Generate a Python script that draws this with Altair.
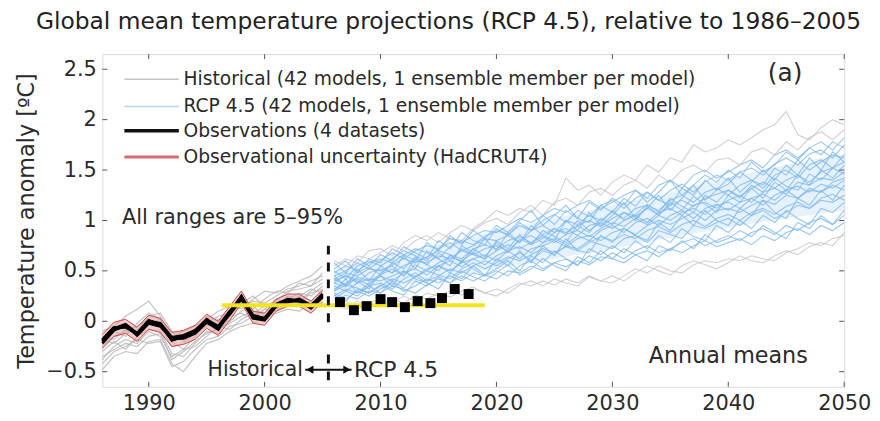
import altair as alt
import pandas as pd

FONT = "DejaVu Sans"
TXT = "#2a2a2a"

YEARS_HIST = list(range(1986, 2006))
YEARS_RCP = list(range(2006, 2051))

# Observations (4 datasets), 1986-2005
OBS_1 = [-0.20, -0.08, -0.05, -0.13, -0.01, -0.04, -0.18, -0.16, -0.11, 0.00, -0.07, 0.08, 0.24, 0.04, 0.02, 0.16, 0.21, 0.21, 0.14, 0.25]
OBS_2 = [-0.18, -0.06, -0.06, -0.12, 0.01, -0.03, -0.19, -0.15, -0.10, 0.02, -0.06, 0.07, 0.22, 0.03, 0.01, 0.15, 0.20, 0.20, 0.15, 0.27]
OBS_3 = [-0.22, -0.09, -0.04, -0.14, -0.02, -0.05, -0.17, -0.17, -0.12, -0.01, -0.08, 0.09, 0.25, 0.05, 0.03, 0.17, 0.22, 0.20, 0.13, 0.24]
OBS_4 = [-0.19, -0.07, -0.03, -0.12, 0.00, -0.02, -0.16, -0.14, -0.09, 0.01, -0.05, 0.10, 0.23, 0.06, 0.03, 0.15, 0.19, 0.22, 0.16, 0.26]

# Observational uncertainty (HadCRUT4) envelope
UNC_HI = [-0.13, -0.01, 0.02, -0.06, 0.06, 0.03, -0.11, -0.09, -0.04, 0.07, 0.00, 0.15, 0.30, 0.10, 0.08, 0.22, 0.27, 0.27, 0.20, 0.31]
UNC_LO = [-0.27, -0.15, -0.12, -0.20, -0.08, -0.11, -0.25, -0.23, -0.18, -0.07, -0.14, 0.01, 0.18, -0.02, -0.04, 0.10, 0.15, 0.15, 0.08, 0.19]

# Historical model runs (subset)
HIST_MODELS = [
    [-0.35, -0.28, -0.22, -0.25, -0.15, -0.12, -0.38, -0.30, -0.20, -0.12, -0.08, -0.02, 0.05, 0.10, 0.08, 0.18, 0.22, 0.28, 0.25, 0.35],
    [-0.10, -0.05, 0.05, 0.12, 0.20, 0.05, -0.15, -0.10, -0.05, 0.02, 0.10, 0.15, 0.12, 0.22, 0.30, 0.28, 0.35, 0.40, 0.45, 0.55],
    [-0.42, -0.30, -0.25, -0.18, -0.22, -0.20, -0.45, -0.40, -0.28, -0.18, -0.15, -0.05, -0.02, 0.05, 0.12, 0.10, 0.18, 0.25, 0.20, 0.30],
    [-0.25, -0.15, -0.10, -0.05, 0.02, -0.05, -0.25, -0.22, -0.12, -0.05, 0.02, 0.00, 0.10, 0.15, 0.05, 0.15, 0.25, 0.20, 0.30, 0.38],
    [-0.30, -0.20, -0.28, -0.15, -0.08, -0.10, -0.32, -0.35, -0.22, -0.10, -0.12, 0.05, 0.08, 0.02, 0.12, 0.22, 0.18, 0.25, 0.32, 0.28],
    [-0.18, -0.22, -0.12, -0.08, -0.02, 0.02, -0.20, -0.28, -0.15, -0.02, 0.05, 0.08, 0.15, 0.20, 0.18, 0.25, 0.32, 0.35, 0.40, 0.45],
    [-0.48, -0.35, -0.30, -0.32, -0.20, -0.18, -0.42, -0.50, -0.35, -0.22, -0.18, -0.10, -0.05, -0.02, 0.05, 0.08, 0.12, 0.10, 0.18, 0.22],
    [-0.22, -0.10, -0.15, -0.02, 0.08, 0.02, -0.18, -0.15, -0.08, 0.00, -0.02, 0.12, 0.18, 0.12, 0.22, 0.30, 0.28, 0.38, 0.35, 0.48],
    [-0.38, -0.25, -0.18, -0.22, -0.10, -0.15, -0.35, -0.28, -0.25, -0.15, -0.05, -0.08, 0.02, 0.08, 0.15, 0.12, 0.20, 0.18, 0.28, 0.32],
    [-0.15, -0.18, -0.08, -0.10, 0.05, 0.08, -0.10, -0.20, -0.10, 0.05, 0.00, 0.05, 0.18, 0.25, 0.15, 0.20, 0.30, 0.32, 0.35, 0.42],
]

# RCP 4.5 model runs, 2006-2050 (subset)
RCP_MODELS = [
    [0.55, 0.62, 0.58, 0.70, 0.72, 0.65, 0.78, 0.85, 0.80, 0.88, 0.82, 0.80, 0.92, 1.00, 1.10, 1.05, 1.12, 1.08, 1.20, 1.15, 1.42, 1.30, 1.35, 1.25, 1.38, 1.45, 1.40, 1.55, 1.48, 1.62, 1.58, 1.75, 1.68, 1.72, 1.80, 1.75, 1.82, 1.90, 1.95, 2.08, 1.85, 1.80, 1.92, 2.00, 1.95],
    [0.15, 0.20, 0.12, 0.18, 0.22, 0.18, 0.25, 0.20, 0.28, 0.25, 0.30, 0.26, 0.32, 0.28, 0.25, 0.32, 0.38, 0.35, 0.40, 0.36, 0.42, 0.38, 0.45, 0.40, 0.38, 0.45, 0.52, 0.48, 0.55, 0.50, 0.48, 0.56, 0.60, 0.58, 0.62, 0.60, 0.65, 0.62, 0.60, 0.68, 0.72, 0.78, 0.75, 0.82, 0.85],
    [0.45, 0.50, 0.58, 0.52, 0.60, 0.68, 0.62, 0.70, 0.75, 0.72, 0.82, 0.78, 0.85, 0.90, 0.88, 0.95, 1.02, 0.98, 1.05, 1.12, 1.08, 1.15, 1.20, 1.12, 1.18, 1.25, 1.30, 1.22, 1.35, 1.40, 1.32, 1.45, 1.50, 1.42, 1.48, 1.55, 1.60, 1.52, 1.65, 1.70, 1.62, 1.72, 1.78, 1.70, 1.82],
    [0.35, 0.30, 0.38, 0.42, 0.40, 0.45, 0.50, 0.44, 0.52, 0.55, 0.50, 0.58, 0.62, 0.56, 0.65, 0.70, 0.62, 0.72, 0.75, 0.80, 0.74, 0.82, 0.85, 0.80, 0.88, 0.92, 0.86, 0.95, 1.00, 0.96, 1.02, 1.08, 1.00, 1.10, 1.12, 1.08, 1.15, 1.20, 1.16, 1.25, 1.22, 1.30, 1.28, 1.35, 1.30],
    [0.25, 0.32, 0.28, 0.35, 0.38, 0.32, 0.42, 0.48, 0.40, 0.45, 0.52, 0.48, 0.55, 0.60, 0.55, 0.62, 0.68, 0.60, 0.70, 0.66, 0.75, 0.72, 0.80, 0.76, 0.72, 0.82, 0.85, 0.78, 0.90, 0.86, 0.82, 0.95, 0.92, 0.98, 1.02, 0.95, 1.05, 1.10, 1.02, 1.08, 1.15, 1.12, 1.20, 1.18, 1.25],
    [0.50, 0.42, 0.55, 0.60, 0.55, 0.62, 0.70, 0.65, 0.60, 0.72, 0.78, 0.70, 0.75, 0.82, 0.80, 0.85, 0.78, 0.90, 0.95, 0.88, 1.00, 0.96, 1.05, 1.00, 1.08, 1.02, 1.12, 1.15, 1.10, 1.20, 1.25, 1.18, 1.28, 1.32, 1.25, 1.35, 1.40, 1.32, 1.45, 1.50, 1.42, 1.55, 1.60, 1.52, 1.65],
    [0.28, 0.22, 0.30, 0.25, 0.32, 0.38, 0.30, 0.35, 0.42, 0.38, 0.45, 0.40, 0.48, 0.45, 0.50, 0.45, 0.55, 0.60, 0.52, 0.58, 0.62, 0.56, 0.65, 0.60, 0.68, 0.62, 0.70, 0.75, 0.68, 0.72, 0.78, 0.82, 0.75, 0.80, 0.85, 0.80, 0.88, 0.92, 0.86, 0.95, 0.90, 0.98, 1.02, 0.96, 1.05],
    [0.40, 0.45, 0.38, 0.48, 0.52, 0.48, 0.55, 0.60, 0.58, 0.65, 0.62, 0.70, 0.66, 0.72, 0.75, 0.70, 0.80, 0.85, 0.78, 0.88, 0.92, 0.85, 0.95, 0.98, 0.92, 1.00, 1.05, 0.98, 1.08, 1.12, 1.05, 1.15, 1.18, 1.12, 1.20, 1.25, 1.18, 1.28, 1.32, 1.26, 1.38, 1.35, 1.42, 1.40, 1.48],
    [0.60, 0.55, 0.65, 0.62, 0.68, 0.75, 0.70, 0.80, 0.85, 0.78, 0.88, 0.95, 0.90, 0.98, 1.02, 0.96, 1.08, 1.15, 1.05, 1.18, 1.22, 1.15, 1.28, 1.32, 1.25, 1.35, 1.40, 1.32, 1.45, 1.38, 1.50, 1.55, 1.48, 1.60, 1.62, 1.55, 1.68, 1.72, 1.65, 1.78, 1.70, 1.82, 1.88, 1.80, 1.90],
    [0.32, 0.38, 0.42, 0.36, 0.45, 0.40, 0.48, 0.52, 0.46, 0.55, 0.60, 0.54, 0.62, 0.66, 0.60, 0.70, 0.74, 0.68, 0.78, 0.82, 0.76, 0.85, 0.80, 0.90, 0.95, 0.88, 0.98, 1.02, 0.95, 1.05, 1.10, 1.02, 1.12, 1.16, 1.10, 1.18, 1.22, 1.15, 1.25, 1.30, 1.22, 1.32, 1.28, 1.38, 1.42],
    [0.20, 0.26, 0.22, 0.30, 0.28, 0.35, 0.32, 0.28, 0.36, 0.42, 0.38, 0.45, 0.40, 0.46, 0.42, 0.50, 0.48, 0.55, 0.50, 0.58, 0.54, 0.60, 0.56, 0.64, 0.62, 0.58, 0.66, 0.70, 0.64, 0.72, 0.68, 0.75, 0.80, 0.74, 0.78, 0.82, 0.76, 0.85, 0.80, 0.88, 0.92, 0.86, 0.95, 0.90, 0.98],
    [0.38, 0.34, 0.44, 0.40, 0.46, 0.52, 0.45, 0.56, 0.50, 0.58, 0.64, 0.60, 0.68, 0.62, 0.70, 0.76, 0.72, 0.78, 0.84, 0.78, 0.86, 0.90, 0.84, 0.92, 0.98, 0.94, 1.02, 0.96, 1.05, 1.00, 1.08, 1.12, 1.06, 1.15, 1.18, 1.12, 1.22, 1.26, 1.20, 1.30, 1.34, 1.28, 1.36, 1.32, 1.40],
    [0.48, 0.55, 0.50, 0.58, 0.62, 0.58, 0.66, 0.72, 0.68, 0.62, 0.74, 0.80, 0.76, 0.84, 0.90, 0.86, 0.95, 0.90, 1.00, 1.06, 0.98, 1.10, 1.04, 1.15, 1.20, 1.12, 1.22, 1.28, 1.20, 1.30, 1.36, 1.28, 1.38, 1.45, 1.40, 1.48, 1.52, 1.45, 1.56, 1.62, 1.55, 1.66, 1.70, 1.62, 1.75],
    [0.18, 0.12, 0.20, 0.15, 0.15, 0.22, 0.18, 0.26, 0.22, 0.28, 0.24, 0.30, 0.34, 0.28, 0.32, 0.28, 0.36, 0.40, 0.35, 0.42, 0.38, 0.35, 0.44, 0.40, 0.45, 0.40, 0.48, 0.55, 0.50, 0.46, 0.55, 0.60, 0.56, 0.52, 0.58, 0.65, 0.60, 0.58, 0.65, 0.70, 0.66, 0.74, 0.78, 0.75, 0.88],
    [0.30, 0.36, 0.33, 0.28, 0.35, 0.42, 0.38, 0.44, 0.50, 0.46, 0.42, 0.52, 0.58, 0.52, 0.58, 0.64, 0.60, 0.66, 0.72, 0.68, 0.74, 0.70, 0.78, 0.84, 0.80, 0.86, 0.82, 0.90, 0.94, 0.88, 0.96, 1.00, 0.94, 1.02, 1.06, 1.00, 1.08, 1.12, 1.06, 1.14, 1.18, 1.12, 1.22, 1.26, 1.20],
    [0.42, 0.48, 0.45, 0.52, 0.50, 0.56, 0.62, 0.58, 0.64, 0.70, 0.66, 0.62, 0.72, 0.76, 0.72, 0.80, 0.84, 0.78, 0.86, 0.92, 0.88, 0.95, 1.00, 0.94, 1.02, 1.08, 1.04, 1.12, 1.06, 1.15, 1.20, 1.14, 1.22, 1.26, 1.30, 1.24, 1.32, 1.38, 1.32, 1.40, 1.45, 1.38, 1.48, 1.52, 1.58],
    [0.45, 0.35, 0.52, 0.40, 0.55, 0.48, 0.65, 0.52, 0.70, 0.62, 0.55, 0.75, 0.68, 0.82, 0.70, 0.88, 0.78, 0.95, 0.85, 0.80, 1.00, 0.90, 1.08, 0.95, 1.05, 1.18, 1.02, 1.12, 1.25, 1.10, 1.22, 1.35, 1.20, 1.30, 1.42, 1.28, 1.38, 1.50, 1.40, 1.55, 1.45, 1.62, 1.50, 1.68, 1.58],
    [0.30, 0.42, 0.28, 0.38, 0.45, 0.35, 0.50, 0.42, 0.38, 0.55, 0.48, 0.60, 0.52, 0.45, 0.62, 0.55, 0.70, 0.58, 0.75, 0.65, 0.82, 0.70, 0.68, 0.85, 0.78, 0.92, 0.85, 0.80, 0.98, 0.90, 1.05, 0.95, 1.10, 1.00, 0.95, 1.12, 1.05, 1.20, 1.08, 1.02, 1.22, 1.15, 1.30, 1.20, 1.35],
    [0.52, 0.60, 0.48, 0.62, 0.58, 0.72, 0.66, 0.60, 0.78, 0.70, 0.85, 0.76, 0.90, 0.82, 0.95, 0.88, 1.00, 1.10, 0.95, 1.05, 1.15, 1.02, 1.18, 1.10, 1.22, 1.15, 1.30, 1.18, 1.28, 1.40, 1.25, 1.35, 1.45, 1.38, 1.50, 1.42, 1.58, 1.48, 1.55, 1.68, 1.60, 1.72, 1.65, 1.78, 1.72],
    [0.22, 0.30, 0.25, 0.35, 0.28, 0.40, 0.33, 0.45, 0.38, 0.32, 0.48, 0.42, 0.55, 0.46, 0.52, 0.60, 0.50, 0.65, 0.58, 0.70, 0.62, 0.55, 0.72, 0.66, 0.75, 0.68, 0.80, 0.72, 0.85, 0.78, 0.92, 0.84, 0.80, 0.95, 0.88, 1.00, 0.92, 1.05, 0.98, 1.10, 1.02, 0.96, 1.12, 1.08, 1.18],
    [0.38, 0.46, 0.40, 0.32, 0.48, 0.55, 0.45, 0.62, 0.56, 0.50, 0.66, 0.58, 0.72, 0.64, 0.78, 0.68, 0.82, 0.76, 0.90, 0.84, 0.78, 0.95, 0.88, 1.02, 0.96, 1.08, 1.00, 1.14, 1.05, 1.18, 1.10, 1.24, 1.16, 1.08, 1.25, 1.18, 1.32, 1.22, 1.38, 1.30, 1.45, 1.35, 1.50, 1.42, 1.55],
    [0.58, 0.48, 0.62, 0.55, 0.66, 0.60, 0.74, 0.68, 0.62, 0.80, 0.72, 0.88, 0.80, 0.76, 0.92, 0.85, 0.98, 0.90, 1.05, 0.96, 1.10, 1.02, 0.98, 1.15, 1.08, 1.22, 1.14, 1.28, 1.20, 1.15, 1.32, 1.25, 1.40, 1.30, 1.36, 1.48, 1.40, 1.35, 1.52, 1.45, 1.60, 1.50, 1.58, 1.65, 1.62],
    [0.26, 0.20, 0.32, 0.28, 0.36, 0.30, 0.26, 0.40, 0.35, 0.44, 0.38, 0.50, 0.44, 0.40, 0.48, 0.56, 0.46, 0.52, 0.62, 0.55, 0.50, 0.64, 0.58, 0.70, 0.62, 0.72, 0.66, 0.60, 0.75, 0.70, 0.80, 0.72, 0.86, 0.78, 0.82, 0.90, 0.84, 0.95, 0.88, 0.82, 0.98, 0.92, 1.05, 0.96, 1.10],
    [0.42, 0.36, 0.48, 0.54, 0.46, 0.58, 0.52, 0.64, 0.56, 0.68, 0.60, 0.72, 0.66, 0.62, 0.80, 0.72, 0.86, 0.76, 0.82, 0.92, 0.86, 1.00, 0.90, 0.98, 1.10, 1.00, 1.06, 1.16, 1.08, 1.22, 1.14, 1.08, 1.25, 1.18, 1.30, 1.22, 1.35, 1.28, 1.42, 1.34, 1.30, 1.46, 1.40, 1.52, 1.46],
]
RCP_OUTER = [0, 1, 8, 13]  # the pale grey-ish extreme runs

# Dense core of the RCP 4.5 ensemble (read at 5-year steps)
CORE_YEARS = [2006, 2010, 2015, 2020, 2025, 2030, 2035, 2040, 2045, 2050]
CORE_LO = [0.24, 0.32, 0.42, 0.52, 0.62, 0.72, 0.83, 0.93, 1.02, 1.10]
CORE_HI = [0.52, 0.62, 0.76, 0.90, 1.02, 1.15, 1.28, 1.42, 1.55, 1.66]

# Added annual observations after 2005 (black squares)
SQ_YEARS = [2006.5, 2007.7, 2008.8, 2010.0, 2011.0, 2012.1, 2013.2, 2014.3, 2015.3, 2016.4, 2017.6]
SQ_VALUES = [0.19, 0.11, 0.15, 0.22, 0.19, 0.14, 0.20, 0.18, 0.23, 0.32, 0.27]

# Yellow reference line
YELLOW_X = [1996.3, 2019.0]
YELLOW_Y = 0.16

X_TICKS = [1990, 2000, 2010, 2020, 2030, 2040, 2050]
Y_TICKS = [-0.5, 0, 0.5, 1, 1.5, 2, 2.5]
X_DOMAIN = [1986, 2050]
Y_DOMAIN = [-0.65, 2.65]

LEGEND_LABELS = [
    "Historical (42 models, 1 ensemble member per model)",
    "RCP 4.5 (42 models, 1 ensemble member per model)",
    "Observations (4 datasets)",
    "Observational uncertainty (HadCRUT4)",
]
LEGEND_Y = [2.40, 2.13, 1.89, 1.63]
LEGEND_COLORS = ["#c4c4c4", "#b4d6f2", "#111111", "#d86a6a"]
LEGEND_WIDTHS = [1.5, 1.5, 3.5, 3.0]

W, H = 747, 335

# ---------- tables ----------
hist_rows = []
for i, s in enumerate(HIST_MODELS):
    for yr, v in zip(YEARS_HIST, s):
        hist_rows.append({"model": f"h{i}", "year": yr, "value": v})
hist_df = pd.DataFrame(hist_rows)

rcp_rows = []
for i, s in enumerate(RCP_MODELS):
    grp = "outer" if i in RCP_OUTER else "inner"
    for yr, v in zip(YEARS_RCP, s):
        rcp_rows.append({"model": f"r{i}", "grp": grp, "year": yr, "value": v})
rcp_df = pd.DataFrame(rcp_rows)

obs_rows = []
for name, s in zip(["a", "b", "c", "d"], [OBS_1, OBS_2, OBS_3, OBS_4]):
    for yr, v in zip(YEARS_HIST, s):
        obs_rows.append({"ds": name, "year": yr, "value": v})
obs_df = pd.DataFrame(obs_rows)

core_df = pd.DataFrame({"year": CORE_YEARS, "lo": CORE_LO, "hi": CORE_HI})
unc_df = pd.DataFrame({"year": YEARS_HIST, "lo": UNC_LO, "hi": UNC_HI})
sq_df = pd.DataFrame({"year": SQ_YEARS, "value": SQ_VALUES})
yel_df = pd.DataFrame({"x": [YELLOW_X[0]], "x2": [YELLOW_X[1]], "y": [YELLOW_Y]})
leg_df = pd.DataFrame({"label": LEGEND_LABELS, "y": LEGEND_Y, "color": LEGEND_COLORS, "w": LEGEND_WIDTHS,
                       "x": [1987.9] * 4, "x2": [1992.6] * 4, "tx": [1993.0] * 4})

xs = alt.Scale(domain=X_DOMAIN, nice=False, zero=False)
ys = alt.Scale(domain=Y_DOMAIN, nice=False, zero=False)

X = alt.X("year:Q", scale=xs, axis=alt.Axis(values=X_TICKS, format="d", grid=False, ticks=False, domain=False,
                                             labelFontSize=21, labelFont=FONT, labelColor=TXT, labelPadding=6,
                                             title=None, labelFlush=False))
Y = alt.Y("value:Q", scale=ys, axis=alt.Axis(values=Y_TICKS, format="~g", grid=False, ticks=False, domain=False,
                                              labelFontSize=21, labelFont=FONT, labelColor=TXT, labelPadding=6,
                                              title="Temperature anomaly  [\u00baC]", titleFontSize=22.5,
                                              titleFont=FONT, titleColor=TXT, titleFontWeight="normal",
                                              titlePadding=7, labelFlush=False))

hist = alt.Chart(hist_df).mark_line(color="#b8b8b8", strokeWidth=1.2, opacity=0.85).encode(
    x=X, y=Y, detail="model:N")

core = alt.Chart(core_df).mark_area(color="#b5d7f4", opacity=0.35, interpolate="monotone").encode(
    x=alt.X("year:Q", scale=xs), y=alt.Y("lo:Q", scale=ys), y2="hi:Q")

rcp = alt.Chart(rcp_df).mark_line(strokeWidth=1.1, opacity=0.8).encode(
    x=alt.X("year:Q", scale=xs), y=alt.Y("value:Q", scale=ys), detail="model:N",
    color=alt.Color("grp:N", scale=alt.Scale(domain=["inner", "outer"], range=["#7db8ec", "#c8c2cc"]), legend=None))

unc = alt.Chart(unc_df).mark_area(color="#e4a0a0", opacity=0.55).encode(
    x=alt.X("year:Q", scale=xs), y=alt.Y("lo:Q", scale=ys), y2="hi:Q")
unc_hi = alt.Chart(unc_df).mark_line(color="#d04848", strokeWidth=1).encode(
    x=alt.X("year:Q", scale=xs), y=alt.Y("hi:Q", scale=ys))
unc_lo = alt.Chart(unc_df).mark_line(color="#d04848", strokeWidth=1).encode(
    x=alt.X("year:Q", scale=xs), y=alt.Y("lo:Q", scale=ys))

obs = alt.Chart(obs_df).mark_line(color="#000000", strokeWidth=2.8).encode(
    x=alt.X("year:Q", scale=xs), y=alt.Y("value:Q", scale=ys), detail="ds:N")

yellow = alt.Chart(yel_df).mark_rule(color="#f2e41c", strokeWidth=4).encode(
    x=alt.X("x:Q", scale=xs), x2="x2:Q", y=alt.Y("y:Q", scale=ys))

dash_df = pd.DataFrame({"x": [2005.5, 2005.5], "y": [0.75, -0.33], "y2": [-0.02, Y_DOMAIN[0]]})
dashed = alt.Chart(dash_df).mark_rule(color="#111111", strokeWidth=3, strokeDash=[9, 8]).encode(
    x=alt.X("x:Q", scale=xs), y=alt.Y("y:Q", scale=ys), y2="y2:Q")

squares = alt.Chart(sq_df).mark_square(color="#000000", size=100, opacity=1).encode(
    x=alt.X("year:Q", scale=xs), y=alt.Y("value:Q", scale=ys))

leg_lines = alt.Chart(leg_df).mark_rule().encode(
    x=alt.X("x:Q", scale=xs), x2="x2:Q", y=alt.Y("y:Q", scale=ys),
    color=alt.Color("color:N", scale=None), strokeWidth=alt.StrokeWidth("w:Q", scale=None))
leg_text = alt.Chart(leg_df).mark_text(align="left", baseline="middle", font=FONT, fontSize=18.8, color=TXT).encode(
    x=alt.X("tx:Q", scale=xs), y=alt.Y("y:Q", scale=ys), text="label:N")

ann_df = pd.DataFrame({
    "text": ["All ranges are 5\u201395%", "(a)", "Annual means"],
    "x": [1987.7, 2044.9, 2040.0],
    "y": [1.02, 2.46, -0.34],
})
ann_left = alt.Chart(ann_df.iloc[[0]]).mark_text(align="left", baseline="middle", font=FONT, fontSize=21, color=TXT).encode(
    x=alt.X("x:Q", scale=xs), y=alt.Y("y:Q", scale=ys), text="text:N")
ann_a = alt.Chart(ann_df.iloc[[1]]).mark_text(align="center", baseline="middle", font=FONT, fontSize=25, color=TXT).encode(
    x=alt.X("x:Q", scale=xs), y=alt.Y("y:Q", scale=ys), text="text:N")
ann_am = alt.Chart(ann_df.iloc[[2]]).mark_text(align="center", baseline="middle", font=FONT, fontSize=22.4, color=TXT).encode(
    x=alt.X("x:Q", scale=xs), y=alt.Y("y:Q", scale=ys), text="text:N")

# "Historical <-|-> RCP 4.5"
per_df = pd.DataFrame({"text": ["Historical", "RCP 4.5"], "x": [2003.3, 2007.7], "y": [-0.48, -0.48]})
per_l = alt.Chart(per_df.iloc[[0]]).mark_text(align="right", baseline="middle", font=FONT, fontSize=20.5, color=TXT).encode(
    x=alt.X("x:Q", scale=xs), y=alt.Y("y:Q", scale=ys), text="text:N")
per_r = alt.Chart(per_df.iloc[[1]]).mark_text(align="left", baseline="middle", font=FONT, fontSize=22, color=TXT).encode(
    x=alt.X("x:Q", scale=xs), y=alt.Y("y:Q", scale=ys), text="text:N")
arrow_df = pd.DataFrame({"x": [2003.5], "x2": [2007.5], "y": [-0.48]})
arrow_line = alt.Chart(arrow_df).mark_rule(color="#111111", strokeWidth=2).encode(
    x=alt.X("x:Q", scale=xs), x2="x2:Q", y=alt.Y("y:Q", scale=ys))
head_df = pd.DataFrame({"x": [2003.9, 2007.1], "y": [-0.48, -0.48], "shape": ["triangle-left", "triangle-right"]})
heads = alt.Chart(head_df).mark_point(filled=True, color="#111111", size=70, opacity=1).encode(
    x=alt.X("x:Q", scale=xs), y=alt.Y("y:Q", scale=ys), shape=alt.Shape("shape:N", scale=None))

# inward ticks on all four sides
xt_df = pd.DataFrame({"t": X_TICKS})
yt_df = pd.DataFrame({"t": Y_TICKS})
xt_bot = alt.Chart(xt_df).mark_rule(color="#555555", strokeWidth=1).encode(
    x=alt.X("t:Q", scale=xs), y=alt.value(H), y2=alt.value(H - 5))
xt_top = alt.Chart(xt_df).mark_rule(color="#555555", strokeWidth=1).encode(
    x=alt.X("t:Q", scale=xs), y=alt.value(0), y2=alt.value(5))
yt_l = alt.Chart(yt_df).mark_rule(color="#555555", strokeWidth=1).encode(
    y=alt.Y("t:Q", scale=ys), x=alt.value(0), x2=alt.value(5))
yt_r = alt.Chart(yt_df).mark_rule(color="#555555", strokeWidth=1).encode(
    y=alt.Y("t:Q", scale=ys), x=alt.value(W), x2=alt.value(W - 5))

chart = alt.layer(
    hist, core, rcp, unc, unc_hi, unc_lo, obs, yellow, dashed, squares,
    leg_lines, leg_text, ann_left, ann_a, ann_am, per_l, per_r, arrow_line, heads,
    xt_bot, xt_top, yt_l, yt_r,
).properties(
    width=W, height=H,
    autosize=alt.AutoSizeParams(type="none"),
    padding={"left": 95, "top": 45, "right": 28, "bottom": 33},
    title=alt.Title("Global mean temperature projections (RCP 4.5), relative to 1986\u20132005",
                    fontSize=23.5, font=FONT, fontWeight="normal", color="#222222",
                    anchor="middle", dx=-25, offset=20),
).configure_view(stroke="#444444", strokeWidth=1.3).configure(background="white")

chart.save("out.html", embed_options={"renderer": "svg", "actions": False})
